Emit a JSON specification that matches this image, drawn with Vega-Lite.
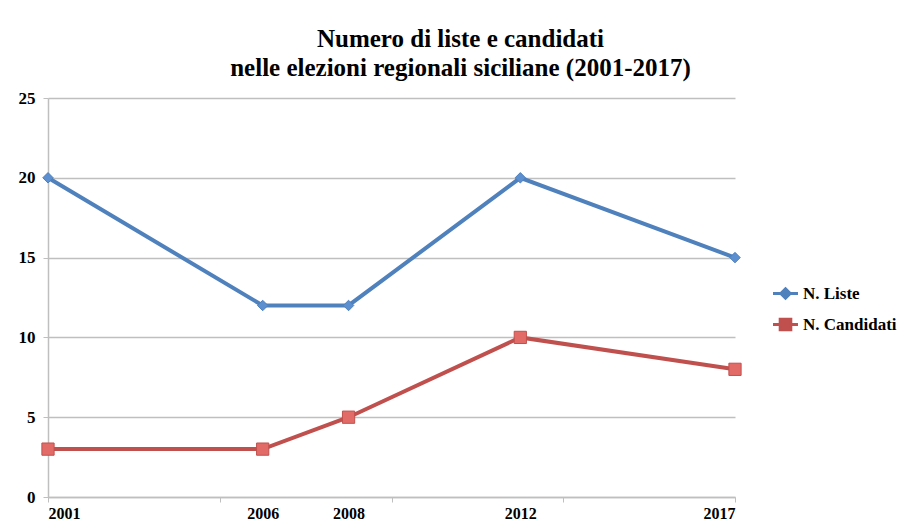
{
  "$schema": "https://vega.github.io/schema/vega-lite/v6.json",
  "width": 687,
  "height": 399,
  "autosize": {"type": "none"},
  "padding": {"left": 48, "top": 98, "right": 173, "bottom": 32},
  "background": "white",
  "title": {
    "text": ["Numero di liste e candidati", "nelle elezioni regionali siciliane (2001-2017)"],
    "font": "Liberation Serif",
    "fontSize": 25,
    "fontWeight": "bold",
    "color": "black",
    "anchor": "middle",
    "frame": "group",
    "dx": 69,
    "lineHeight": 29,
    "offset": 8
  },
  "data": {
    "values": [
      {"anno": 2001, "serie": "N. Liste", "valore": 20},
      {"anno": 2006, "serie": "N. Liste", "valore": 12},
      {"anno": 2008, "serie": "N. Liste", "valore": 12},
      {"anno": 2012, "serie": "N. Liste", "valore": 20},
      {"anno": 2017, "serie": "N. Liste", "valore": 15},
      {"anno": 2001, "serie": "N. Candidati", "valore": 3},
      {"anno": 2006, "serie": "N. Candidati", "valore": 3},
      {"anno": 2008, "serie": "N. Candidati", "valore": 5},
      {"anno": 2012, "serie": "N. Candidati", "valore": 10},
      {"anno": 2017, "serie": "N. Candidati", "valore": 8}
    ]
  },
  "encoding": {
    "x": {
      "field": "anno",
      "type": "quantitative",
      "scale": {"domain": [2001, 2017], "nice": false, "zero": false},
      "axis": {
        "title": null,
        "values": [2001, 2005, 2006, 2008, 2009, 2012, 2013, 2017],
        "labelExpr": "indexof([2001,2006,2008,2012,2017], datum.value) >= 0 ? datum.value : ''",
        "format": "d",
        "grid": false,
        "domainColor": "#bfbfbf",
        "domainWidth": 1.5,
        "tickColor": "#bfbfbf",
        "tickOpacity": {"condition": {"test": "indexof([2001,2005,2009,2013,2017], datum.value) >= 0", "value": 1}, "value": 0},
        "tickSize": 5,
        "labelFont": "Liberation Serif",
        "labelFontWeight": "bold",
        "labelFontSize": 16,
        "labelColor": "black",
        "labelPadding": 3,
        "labelOverlap": false,
        "labelFlush": true
      }
    },
    "y": {
      "field": "valore",
      "type": "quantitative",
      "scale": {"domain": [0, 25], "nice": false},
      "axis": {
        "title": null,
        "values": [0, 5, 10, 15, 20, 25],
        "gridColor": "#bfbfbf",
        "gridWidth": 1.5,
        "domainColor": "#bfbfbf",
        "domainWidth": 1.5,
        "tickColor": "#bfbfbf",
        "tickSize": 5,
        "labelFont": "Liberation Serif",
        "labelFontWeight": "bold",
        "labelFontSize": 17,
        "labelColor": "black",
        "labelPadding": 8
      }
    },
    "color": {
      "field": "serie",
      "type": "nominal",
      "scale": {"domain": ["N. Liste", "N. Candidati"], "range": ["#4F81BD", "#C0504D"]},
      "legend": {
        "title": null,
        "orient": "none",
        "legendX": 729,
        "legendY": 187,
        "padding": 0,
        "labelFont": "Liberation Serif",
        "labelFontWeight": "bold",
        "labelFontSize": 17,
        "labelColor": "black",
        "rowPadding": 8,
        "symbolSize": 156,
        "labelOffset": 9,
        "symbolStrokeWidth": 3,
        "encode": {
          "symbols": {
            "update": {
              "shape": {"signal": "datum.value === 'N. Liste' ? 'M-2,0H2M0,-0.75L0.75,0L0,0.75L-0.75,0Z' : 'M-2,0H2M-0.85,-0.85H0.85V0.85H-0.85Z'"},
              "fill": {"signal": "datum.value === 'N. Liste' ? '#5B8FD0' : '#E26B68'"},
              "stroke": {"signal": "datum.value === 'N. Liste' ? '#4F81BD' : '#C0504D'"},
              "size": {"value": 156},
              "opacity": {"value": 1}
            }
          }
        }
      }
    }
  },
  "layer": [
    {
      "mark": {"type": "line", "strokeWidth": 4}
    },
    {
      "transform": [{"filter": "datum.serie === 'N. Liste'"}],
      "mark": {"type": "point", "shape": "diamond", "size": 110, "filled": true, "opacity": 1, "fill": "#5B8FD0", "stroke": "#4F81BD", "strokeWidth": 1}
    },
    {
      "transform": [{"filter": "datum.serie === 'N. Candidati'"}],
      "mark": {"type": "point", "shape": "square", "size": 150, "filled": true, "opacity": 1, "fill": "#E26B68", "stroke": "#C0504D", "strokeWidth": 1}
    }
  ],
  "config": {
    "view": {"stroke": null}
  }
}
